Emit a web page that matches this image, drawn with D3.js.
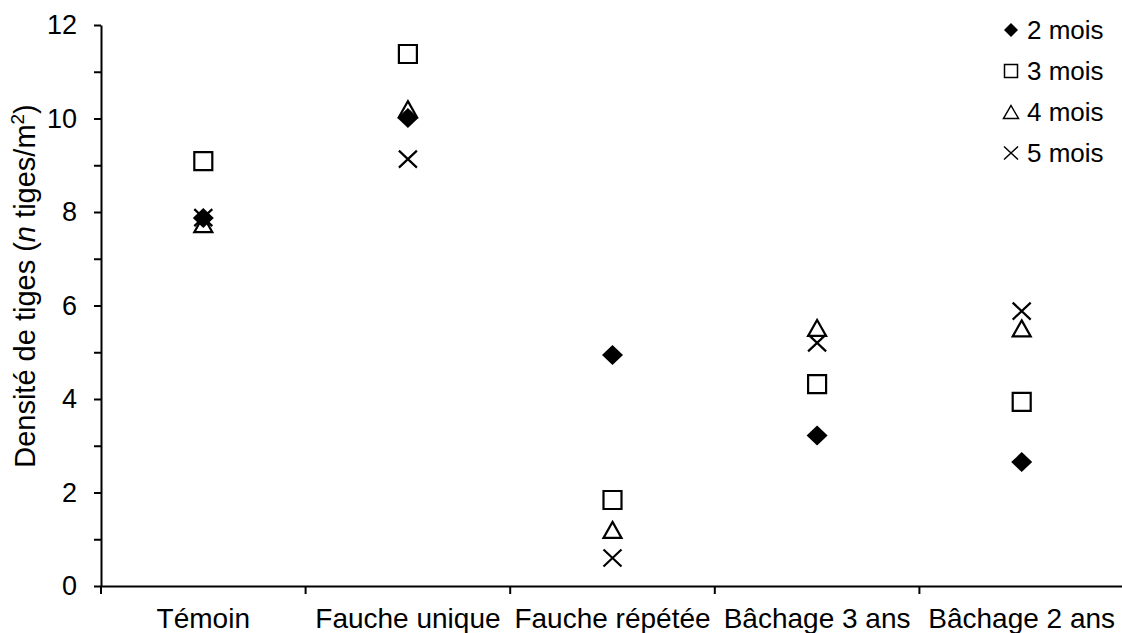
<!DOCTYPE html>
<html>
<head>
<meta charset="utf-8">
<script src="https://cdn.jsdelivr.net/npm/d3@7"></script>
<style>
  body { margin: 0; background: #fff; }
  text { font-family: "Liberation Sans", Arial, sans-serif; fill: #000; }
</style>
</head>
<body>
<div id="container"></div>
<script>
// categories and series
var categories = ["Témoin", "Fauche unique", "Fauche répétée", "Bâchage 3 ans", "Bâchage 2 ans"];
var seriesNames = ["2 mois", "3 mois", "4 mois", "5 mois"];
var mois2 = [7.87, 10.01, 4.94, 3.22, 2.65];
var mois3 = [9.09, 11.38, 1.84, 4.32, 3.94];
var mois4 = [7.74, 10.2, 1.2, 5.52, 5.51];
var mois5 = [7.88, 9.13, 0.6, 5.2, 5.88];
var yMajor = [0, 2, 4, 6, 8, 10, 12];
var yMinor = [1, 3, 5, 7, 9, 11];

var width = 1122, height = 633;
var plotLeft = 101, plotRight = 1124, plotTop = 25, plotBottom = 586;

var svg = d3.select("#container").append("svg")
  .attr("width", width)
  .attr("height", height);

var x = d3.scaleBand().domain(categories).range([plotLeft, plotRight]);
var y = d3.scaleLinear().domain([0, 12]).range([plotBottom, plotTop]);

// marker shapes (Excel style)
function diamond(w, h) {
  return { draw: function(c) {
    c.moveTo(0, -h / 2); c.lineTo(w / 2, 0); c.lineTo(0, h / 2); c.lineTo(-w / 2, 0); c.closePath();
  }};
}
function square(s) {
  return { draw: function(c) { c.rect(-s / 2, -s / 2, s, s); } };
}
function triangle(w, h) {
  return { draw: function(c) {
    c.moveTo(0, -h / 2); c.lineTo(w / 2, h / 2); c.lineTo(-w / 2, h / 2); c.closePath();
  }};
}
function cross(w, h) {
  return { draw: function(c) {
    c.moveTo(-w / 2, -h / 2); c.lineTo(w / 2, h / 2);
    c.moveTo(w / 2, -h / 2); c.lineTo(-w / 2, h / 2);
  }};
}

var series = [
  { name: seriesNames[0], values: mois2, type: diamond(21, 20), legend: diamond(14, 14), fill: "#000", stroke: "none" },
  { name: seriesNames[1], values: mois3, type: square(18), legend: square(13), fill: "none", stroke: "#000" },
  { name: seriesNames[2], values: mois4, type: triangle(18, 16), legend: triangle(15, 13), fill: "none", stroke: "#000" },
  { name: seriesNames[3], values: mois5, type: cross(18, 17), legend: cross(14, 13), fill: "none", stroke: "#000" }
];

// y axis: major ticks with labels, minor ticks without
svg.append("g")
  .attr("transform", "translate(" + plotLeft + ",0)")
  .call(d3.axisLeft(y).tickValues(yMajor).tickSize(7).tickPadding(17).tickSizeOuter(0));
svg.append("g")
  .attr("transform", "translate(" + plotLeft + ",0)")
  .call(d3.axisLeft(y).tickValues(yMinor).tickSize(7).tickFormat("").tickSizeOuter(0))
  .select(".domain").remove();

// x axis: labels at band centers, ticks at band boundaries
var xAxis = svg.append("g")
  .attr("transform", "translate(0," + plotBottom + ")")
  .call(d3.axisBottom(x).tickSize(0).tickPadding(22).tickSizeOuter(0));
xAxis.selectAll(".tick line").remove();

svg.append("g").selectAll("line")
  .data(categories)
  .enter().append("line")
  .attr("x1", function(d) { return x(d); })
  .attr("x2", function(d) { return x(d); })
  .attr("y1", plotBottom)
  .attr("y2", plotBottom + 8)
  .attr("stroke", "#000")
  .attr("stroke-width", 2);

svg.selectAll(".domain").attr("stroke", "#000").attr("stroke-width", 2);
svg.selectAll(".tick line").attr("stroke", "#000").attr("stroke-width", 2);
svg.selectAll(".tick text")
  .style("font-family", "'Liberation Sans', Arial, sans-serif")
  .style("font-size", "27px")
  .attr("fill", "#000");
xAxis.selectAll(".tick text").style("font-size", "28px");

// y label
var ylab = svg.append("text")
  .attr("transform", "translate(35,286) rotate(-90)")
  .attr("text-anchor", "middle")
  .style("font-size", "29px");
ylab.append("tspan").text("Densité de tiges (");
ylab.append("tspan").style("font-style", "italic").text("n");
ylab.append("tspan").text(" tiges/m");
ylab.append("tspan").attr("dy", -11).style("font-size", "19px").text("2");
ylab.append("tspan").attr("dy", 11).text(")");

// points
series.forEach(function(s) {
  svg.append("g").selectAll("path")
    .data(s.values)
    .enter().append("path")
    .attr("d", d3.symbol().type(s.type))
    .attr("transform", function(d, i) {
      return "translate(" + (x(categories[i]) + x.bandwidth() / 2) + "," + y(d) + ")";
    })
    .attr("fill", s.fill)
    .attr("stroke", s.stroke)
    .attr("stroke-width", 2.2);
});

// legend
var legend = svg.append("g").attr("transform", "translate(1011,30)");
var items = legend.selectAll("g")
  .data(series)
  .enter().append("g")
  .attr("transform", function(d, i) { return "translate(0," + (i * 41) + ")"; });
items.append("path")
  .attr("d", function(d) { return d3.symbol().type(d.legend)(); })
  .attr("fill", function(d) { return d.fill; })
  .attr("stroke", function(d) { return d.stroke; })
  .attr("stroke-width", 1.5);
items.append("text")
  .attr("x", 16)
  .attr("y", 9)
  .style("font-size", "26px")
  .text(function(d) { return d.name; });
</script>
</body>
</html>
